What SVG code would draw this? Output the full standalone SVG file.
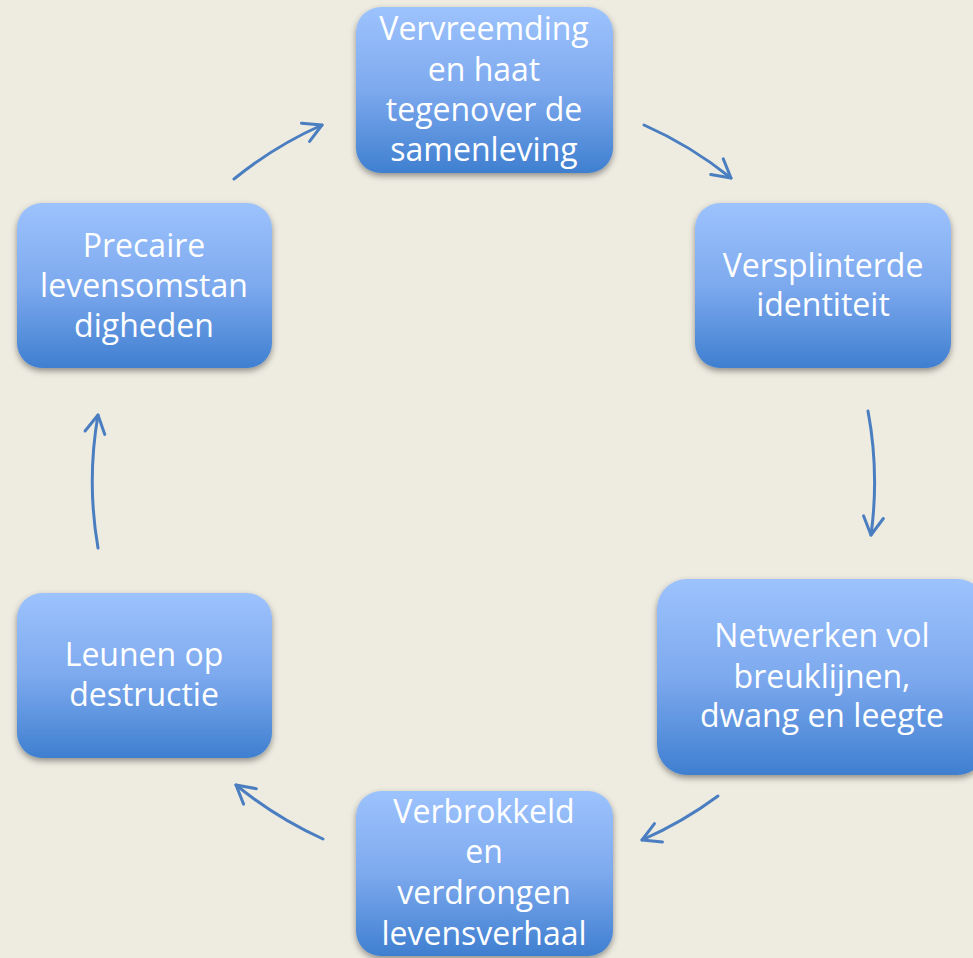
<svg xmlns="http://www.w3.org/2000/svg" width="973" height="958" viewBox="0 0 973 958">
<style>
.box{fill:url(#g);filter:url(#sh)}
.t{font-family:"Open Sans","Liberation Sans",sans-serif;font-size:32px;fill:#ffffff;text-anchor:middle}
.c{fill:none;stroke:#4A7EC0;stroke-width:3;stroke-linecap:round;marker-end:url(#ah)}
</style>
<defs>
<linearGradient id="g" x1="0" y1="0" x2="0" y2="1">
<stop offset="0" stop-color="#9DC3FD"/>
<stop offset="0.5" stop-color="#7DA9EE"/>
<stop offset="1" stop-color="#3F7FD0"/>
</linearGradient>
<filter id="sh" x="-10%" y="-10%" width="120%" height="130%">
<feDropShadow dx="0" dy="3" stdDeviation="3" flood-color="#000000" flood-opacity="0.4"/>
</filter>
<marker id="ah" markerUnits="userSpaceOnUse" markerWidth="30" markerHeight="30" viewBox="-25 -15 30 30" refX="0" refY="0" orient="auto" overflow="visible">
<path d="M-18,-10 L0,0 L-18,10" fill="none" stroke="#4A7EC0" stroke-width="3" stroke-linecap="round" stroke-linejoin="round"/>
</marker>
</defs>
<rect width="973" height="958" fill="#EEECE1"/>
<g id="connectors">
<path class="c" d="M234,179 A390,390 0 0 1 322,125"/>
<path class="c" d="M644,125 A390,390 0 0 1 731,178"/>
<path class="c" d="M868,411 A390,390 0 0 1 871,535"/>
<path class="c" d="M718,796 A390,390 0 0 1 642,840"/>
<path class="c" d="M323,839 A390,390 0 0 1 236,785"/>
<path class="c" d="M98,548 A390,390 0 0 1 98,415"/>
</g>
<g id="n1">
<rect class="box" x="356" y="7" width="257" height="166" rx="25"/>
<text class="t" x="484" y="40">Vervreemding</text>
<text class="t" x="484" y="81">en haat</text>
<text class="t" x="484" y="121">tegenover de</text>
<text class="t" x="484" y="161">samenleving</text>
</g>
<g id="n2">
<rect class="box" x="695" y="203" width="256" height="165" rx="25"/>
<text class="t" x="823" y="277">Versplinterde</text>
<text class="t" x="823" y="316">identiteit</text>
</g>
<g id="n3">
<rect class="box" x="657" y="579" width="330" height="196" rx="30"/>
<text class="t" x="822" y="647">Netwerken vol</text>
<text class="t" x="822" y="688">breuklijnen,</text>
<text class="t" x="822" y="727">dwang en leegte</text>
</g>
<g id="n4">
<rect class="box" x="356" y="791" width="257" height="165" rx="25"/>
<text class="t" x="484" y="823">Verbrokkeld</text>
<text class="t" x="484" y="863">en</text>
<text class="t" x="484" y="904">verdrongen</text>
<text class="t" x="484" y="945">levensverhaal</text>
</g>
<g id="n5">
<rect class="box" x="17" y="593" width="255" height="165" rx="25"/>
<text class="t" x="144" y="666">Leunen op</text>
<text class="t" x="144" y="706">destructie</text>
</g>
<g id="n6">
<rect class="box" x="17" y="203" width="255" height="165" rx="25"/>
<text class="t" x="144" y="257">Precaire</text>
<text class="t" x="144" y="297">levensomstan</text>
<text class="t" x="144" y="337">digheden</text>
</g>
</svg>
